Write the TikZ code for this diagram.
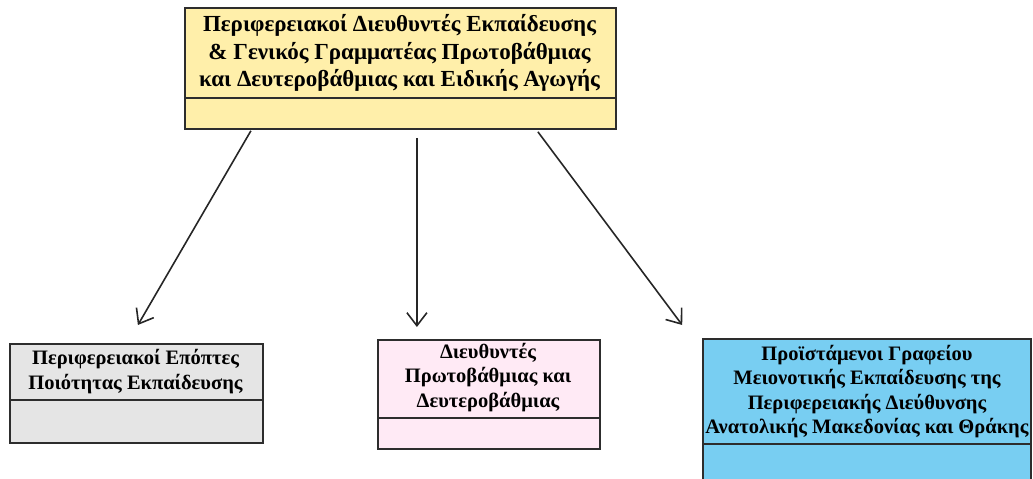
\documentclass[tikz,border=0pt]{standalone}
\usepackage{fontspec}
\setmainfont{Liberation Serif}
\usetikzlibrary{arrows.meta}
\definecolor{topfill}{RGB}{255,239,170}
\definecolor{grayfill}{RGB}{229,229,229}
\definecolor{pinkfill}{RGB}{255,234,245}
\definecolor{bluefill}{RGB}{120,206,242}
\definecolor{edge}{RGB}{45,45,45}
\begin{document}
\begin{tikzpicture}[x=1pt,y=-1pt,
  box/.style={draw=edge,line width=1.8pt,rectangle,inner sep=0pt,anchor=north west},
  label/.style={align=center,font=\bfseries\fontsize{20.5}{24.5}\selectfont,inner sep=0pt},
  biglabel/.style={align=center,font=\bfseries\fontsize{23}{27.5}\selectfont,inner sep=0pt},
  divider/.style={draw=edge,line width=1.8pt},
  arr/.style={draw=black!85,line width=1.6pt,-{Straight Barb[length=13pt,width=20pt,line width=1.6pt]}}]
\useasboundingbox (0,0) rectangle (1033,479);

% head office box
\node[box,fill=topfill,minimum width=431pt,minimum height=121pt] (top) at (184,7) {};
\draw[divider] (184,98) -- (615,98);
\node[biglabel] (toptext) at (399.5,53) {Περιφερειακοί Διευθυντές Εκπαίδευσης\\\& Γενικός Γραμματέας Πρωτοβάθμιας\\και Δευτεροβάθμιας και Ειδικής Αγωγής};

% quality supervisors
\node[box,fill=grayfill,minimum width=253pt,minimum height=99pt] (left) at (9,343) {};
\draw[divider] (9,400) -- (262,400);
\node[label] (lefttext) at (135.5,371.5) {Περιφερειακοί Επόπτες\\Ποιότητας Εκπαίδευσης};

% directors
\node[box,fill=pinkfill,minimum width=222pt,minimum height=109pt] (mid) at (377,339) {};
\draw[divider] (377,418) -- (599,418);
\node[label] (midtext) at (488,377.5) {Διευθυντές\\Πρωτοβάθμιας και\\Δευτεροβάθμιας};

% minority education office
\filldraw[fill=bluefill,draw=edge,line width=1.8pt] (703,485) -- (703,339) -- (1031,339) -- (1031,485);
\node[inner sep=0pt,minimum width=328pt,minimum height=146pt,anchor=north west] (right) at (703,339) {};
\draw[divider] (703,444) -- (1031,444);
\node[label] (righttext) at (867,391.5) {Προϊστάμενοι Γραφείου\\Μειονοτικής Εκπαίδευσης της\\Περιφερειακής Διεύθυνσης\\Ανατολικής Μακεδονίας και Θράκης};

% connectors (shifts are in canvas direction: positive yshift moves up)
\draw[arr] ([xshift=-149.5pt,yshift=-1pt]top.south) -- ([xshift=1.5pt,yshift=18pt]left.north);
\draw[arr] ([xshift=16.5pt,yshift=-8pt]top.south) -- ([xshift=-72pt,yshift=12pt]mid.north);
\draw[arr] ([xshift=137.5pt,yshift=-2pt]top.south) -- ([xshift=-185pt,yshift=14pt]right.north);
\end{tikzpicture}
\end{document}
